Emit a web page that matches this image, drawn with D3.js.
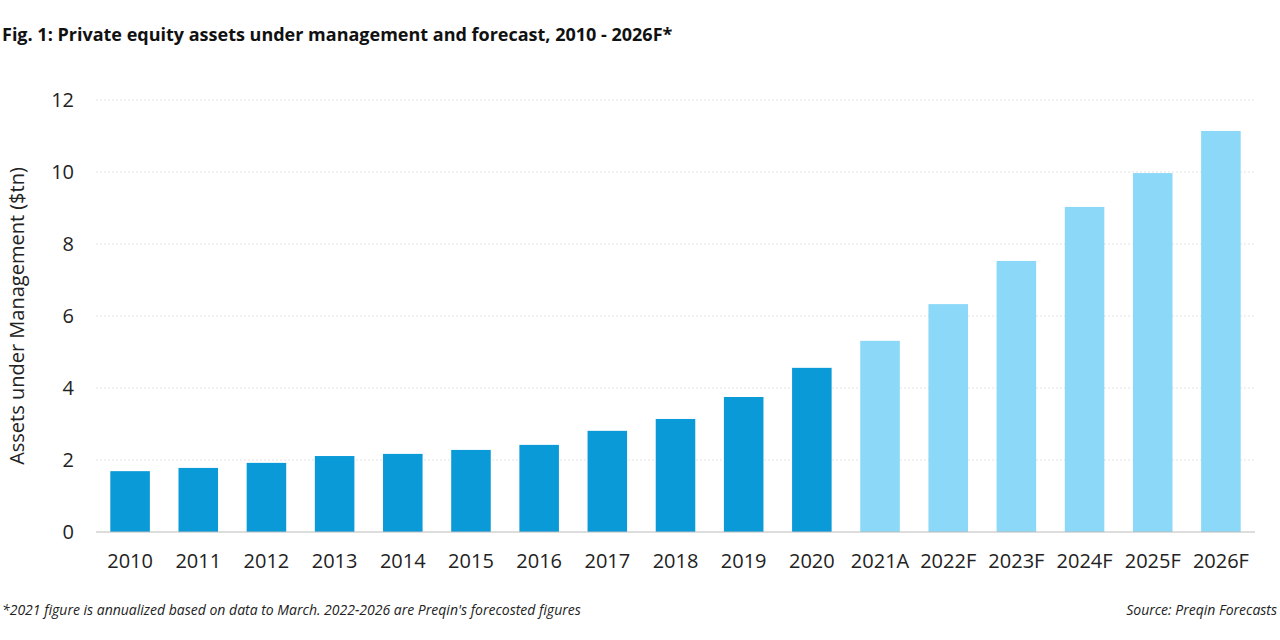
<!DOCTYPE html>
<html><head><meta charset="utf-8">
<script src="https://cdn.jsdelivr.net/npm/d3@7"></script>
<style>body{margin:0;background:#fff;font-family:"Open Sans",sans-serif;}</style>
</head><body>
<svg id="chart" width="1280" height="640"></svg>
<script>
const years = ["2010","2011","2012","2013","2014","2015","2016","2017","2018","2019","2020","2021A","2022F","2023F","2024F","2025F","2026F"];
const aum = [1.69,1.78,1.92,2.11,2.17,2.28,2.42,2.81,3.14,3.75,4.56,5.31,6.33,7.53,9.03,9.97,11.14];
const yTicks = [0,2,4,6,8,10,12];

const svg = d3.select("#chart");
const x = d3.scaleBand().domain(years).range([96, 1255]).paddingInner(0.42).paddingOuter(0.21);
const y = d3.scaleLinear().domain([0, 12]).range([532, 100]);

// gridlines
svg.append("g").selectAll("line").data(yTicks.filter(d => d > 0)).enter().append("line")
    .attr("x1", 96).attr("x2", 1255)
    .attr("y1", d => y(d)).attr("y2", d => y(d))
    .attr("stroke", "#e4e4e4").attr("stroke-dasharray", "2,2");

svg.append("g").selectAll("rect").data(years).enter().append("rect")
    .attr("x", d => x(d))
    .attr("y", (d, i) => y(aum[i]))
    .attr("width", x.bandwidth())
    .attr("height", (d, i) => y(0) - y(aum[i]))
    .attr("fill", (d, i) => i < 11 ? "#0a9ad8" : "#8bd8f8");

svg.append("line").attr("x1", 96).attr("x2", 1255).attr("y1", y(0)).attr("y2", y(0))
    .attr("stroke", "#bbb");

const yAxis = svg.append("g").attr("transform", "translate(74,0)")
    .call(d3.axisLeft(y).tickValues(yTicks).tickSize(0).tickPadding(0));
yAxis.select(".domain").remove();
yAxis.selectAll("text").attr("font-size", 20).attr("fill", "#222").attr("font-family", "Open Sans");

const xAxis = svg.append("g").attr("transform", "translate(0," + y(0) + ")")
    .call(d3.axisBottom(x).tickSize(0).tickPadding(22));
xAxis.select(".domain").remove();
xAxis.selectAll("text").attr("font-size", 20).attr("fill", "#222").attr("font-family", "Open Sans");

svg.append("text").attr("transform", "translate(24,316) rotate(-90)")
    .attr("text-anchor", "middle").attr("font-size", 20).attr("fill", "#222")
    .text("Assets under Management ($tn)");

svg.append("text").attr("x", 2).attr("y", 41).attr("font-size", 18).attr("font-weight", "bold")
    .attr("fill", "#111").text("Fig. 1: Private equity assets under management and forecast, 2010 - 2026F*");

svg.append("text").attr("x", 2).attr("y", 615).attr("font-size", 14).attr("font-style", "italic")
    .attr("fill", "#222").text("*2021 figure is annualized based on data to March. 2022-2026 are Preqin's forecosted figures");
svg.append("text").attr("x", 1277).attr("y", 615).attr("text-anchor", "end").attr("font-size", 14)
    .attr("font-style", "italic").attr("fill", "#222").text("Source: Preqin Forecasts");
</script>
</body></html>
